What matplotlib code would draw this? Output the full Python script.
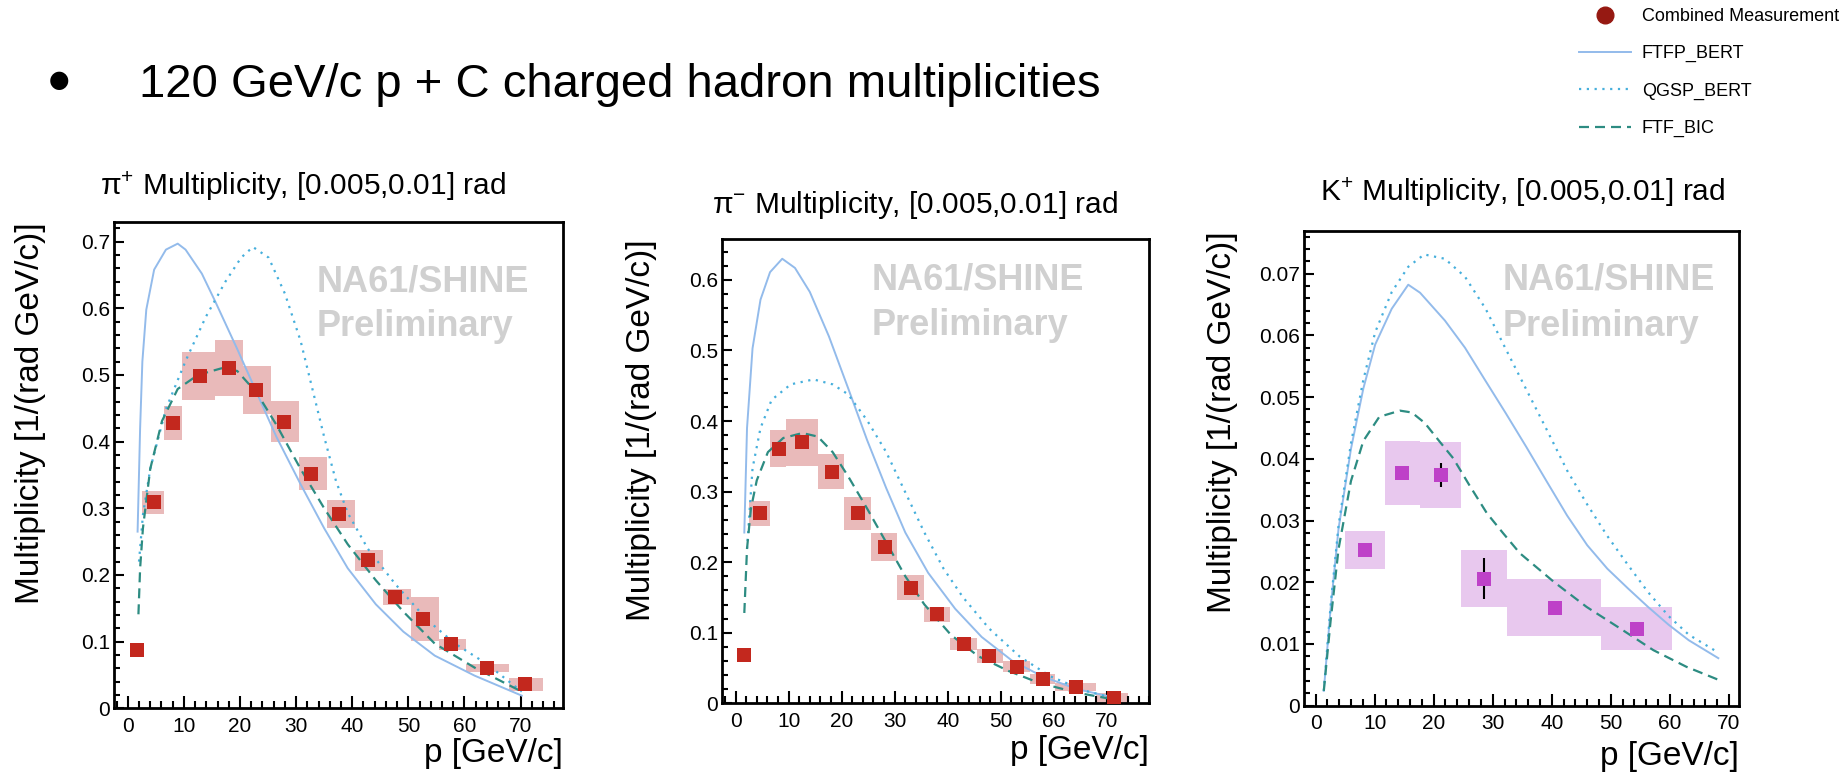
"""
NA61/SHINE 120 GeV/c p + C: pi+, pi-, K+ multiplicities vs Geant4 physics lists
"""
import numpy as np
import matplotlib
matplotlib.use('Agg')
import matplotlib.pyplot as plt
from matplotlib.lines import Line2D
from matplotlib.ticker import MultipleLocator, FuncFormatter

plt.rcParams['font.family'] = ['Liberation Sans', 'DejaVu Sans']
plt.rcParams['mathtext.fontset'] = 'custom'
plt.rcParams['mathtext.rm'] = 'Liberation Sans'
plt.rcParams['mathtext.it'] = 'Liberation Sans:italic'

# ---- pion bins (shared by pi+ and pi-) ----
pi_lo = [0.6, 2.6, 6.5, 9.6, 15.6, 20.5, 25.5, 30.5, 35.5, 40.5, 45.5, 50.5, 55.5, 60.2, 68.0]
pi_hi = [2.6, 6.5, 9.6, 15.6, 20.5, 25.5, 30.5, 35.5, 40.5, 45.5, 50.5, 55.5, 60.2, 68.0, 74.0]

# ---- pi+ measurement ----
pip_p = [1.7, 4.7, 8.1, 12.8, 18.0, 22.9, 27.8, 32.7, 37.7, 42.8, 47.7, 52.6, 57.6, 64.0, 70.8]
pip_m = [0.087, 0.309, 0.428, 0.498, 0.510, 0.477, 0.430, 0.352, 0.291, 0.222, 0.167, 0.134, 0.096, 0.061, 0.036]
pip_sys = [0.003, 0.017, 0.026, 0.036, 0.042, 0.036, 0.031, 0.025, 0.021, 0.016, 0.012, 0.033, 0.008, 0.006, 0.010]

# pi+ models
ftfp1_p = [1.75, 2.2, 2.6, 3.3, 4.7, 6.8, 8.9, 10.3, 13.2, 15.6, 19.5, 23.0, 26.5, 30.8, 35.0, 39.2, 44.2, 49.1, 54.7, 61.8, 70.2]
ftfp1_m = [0.265, 0.42, 0.52, 0.598, 0.658, 0.688, 0.697, 0.688, 0.652, 0.610, 0.539, 0.473, 0.407, 0.336, 0.270, 0.210, 0.156, 0.115, 0.079, 0.049, 0.019]
qgsp1_p = [2.0, 2.7, 4.0, 6.8, 10.3, 13.9, 17.4, 20.2, 22.3, 25.1, 28.0, 30.8, 32.9, 35.0, 37.1, 39.2, 42.8, 47.7, 53.3, 58.3, 63.9, 70.2]
qgsp1_m = [0.22, 0.29, 0.359, 0.449, 0.521, 0.587, 0.640, 0.676, 0.692, 0.676, 0.622, 0.551, 0.479, 0.407, 0.341, 0.293, 0.239, 0.186, 0.133, 0.097, 0.067, 0.025]
bic1_p = [1.9, 2.2, 2.7, 4.0, 6.1, 8.9, 12.5, 16.7, 19.5, 23.0, 26.5, 30.8, 35.0, 39.2, 44.2, 49.1, 54.7, 61.8, 70.2]
bic1_m = [0.141, 0.210, 0.270, 0.359, 0.431, 0.479, 0.500, 0.510, 0.506, 0.473, 0.425, 0.359, 0.300, 0.246, 0.192, 0.145, 0.097, 0.061, 0.025]

# ---- pi- measurement ----
pim_p = [1.65, 4.7, 8.1, 12.6, 18.1, 23.1, 28.1, 33.1, 38.0, 43.0, 47.8, 53.0, 57.9, 64.2, 71.4]
pim_m = [0.069, 0.269, 0.361, 0.370, 0.328, 0.269, 0.222, 0.164, 0.126, 0.084, 0.067, 0.052, 0.035, 0.023, 0.008]
pim_sys = [0.003, 0.018, 0.026, 0.033, 0.025, 0.024, 0.020, 0.018, 0.011, 0.009, 0.010, 0.008, 0.007, 0.006, 0.007]

# pi- models
ftfp2_p = [1.65, 2.16, 3.2, 4.7, 6.5, 8.8, 11.2, 14.0, 17.6, 21.2, 24.8, 28.4, 32.0, 36.3, 41.4, 46.4, 52.2, 57.9, 64.4, 70.9]
ftfp2_m = [0.242, 0.390, 0.503, 0.572, 0.611, 0.630, 0.617, 0.583, 0.520, 0.447, 0.373, 0.305, 0.242, 0.185, 0.134, 0.094, 0.060, 0.038, 0.020, 0.009]
qgsp2_p = [2.16, 3.2, 4.7, 6.8, 10.4, 14.7, 18.3, 21.2, 24.8, 28.4, 32.0, 35.6, 39.2, 42.8, 47.8, 53.6, 59.4, 65.8, 70.9]
qgsp2_m = [0.219, 0.333, 0.390, 0.430, 0.452, 0.459, 0.452, 0.438, 0.401, 0.356, 0.299, 0.242, 0.191, 0.151, 0.106, 0.066, 0.038, 0.018, 0.008]
bic2_p = [1.65, 2.16, 2.9, 4.0, 6.1, 9.0, 12.6, 15.5, 18.3, 21.2, 24.8, 28.4, 32.0, 35.6, 40.6, 45.7, 51.4, 57.2, 64.4, 70.9]
bic2_m = [0.128, 0.219, 0.276, 0.316, 0.356, 0.376, 0.383, 0.378, 0.356, 0.322, 0.276, 0.228, 0.180, 0.140, 0.097, 0.067, 0.046, 0.029, 0.015, 0.006]

# ---- K+ measurement ----
k_p = [8.3, 14.6, 21.2, 28.6, 40.5, 54.5]
k_m = [0.0252, 0.0377, 0.0374, 0.0206, 0.0159, 0.0125]
k_lo = [5.0, 11.7, 17.7, 24.6, 32.4, 48.4]
k_hi = [11.7, 17.7, 24.6, 32.4, 48.4, 60.3]
k_sys = [0.0031, 0.0052, 0.0053, 0.0046, 0.0046, 0.0035]
k_stat = [0.0005, 0.0008, 0.0019, 0.0033, 0.0006, 0.0006]

# K+ models
ftfp3_p = [1.4, 2.55, 3.9, 6.0, 8.1, 10.1, 12.9, 15.7, 17.7, 21.9, 25.3, 28.8, 32.2, 35.7, 39.1, 42.6, 46.0, 49.4, 52.9, 56.3, 59.8, 63.2, 68.2]
ftfp3_m = [0.0024, 0.0157, 0.0287, 0.0416, 0.0514, 0.0585, 0.0643, 0.0682, 0.0669, 0.0624, 0.0580, 0.0526, 0.0474, 0.0419, 0.0364, 0.0308, 0.0260, 0.0222, 0.0190, 0.0160, 0.0131, 0.0106, 0.0077]
qgsp3_p = [1.4, 2.55, 3.9, 6.0, 8.1, 10.1, 12.9, 15.7, 18.4, 21.9, 25.3, 28.8, 32.2, 35.7, 39.1, 42.6, 46.0, 49.4, 52.9, 56.3, 59.8, 63.2, 68.2]
qgsp3_m = [0.0024, 0.0162, 0.0292, 0.0425, 0.0528, 0.0605, 0.0670, 0.0711, 0.0731, 0.0724, 0.0695, 0.0643, 0.0578, 0.0512, 0.0448, 0.0381, 0.0326, 0.0275, 0.0228, 0.0184, 0.0145, 0.0115, 0.0086]
bic3_p = [1.4, 2.55, 3.9, 6.0, 8.1, 10.8, 14.3, 16.3, 18.5, 21.0, 23.3, 26.0, 29.0, 31.8, 34.6, 40.3, 45.9, 51.6, 57.2, 62.8, 68.2]
bic3_m = [0.0024, 0.0137, 0.0254, 0.0364, 0.0429, 0.0468, 0.0478, 0.0475, 0.0458, 0.0428, 0.0401, 0.0358, 0.0312, 0.0279, 0.0247, 0.0201, 0.0160, 0.0125, 0.0090, 0.0063, 0.0042]

labels = ['Combined Measurement', 'FTFP_BERT', 'QGSP_BERT', 'FTF_BIC']

C_FTFP = '#93bbeb'
C_QGSP = '#46afdc'
C_BIC = '#2d8c82'
PI_MARK, PI_BOX = '#c3281e', '#e9baba'
K_MARK, K_BOX = '#be41c8', '#e8c8ee'


def style_axis(ax, xlim, ylim, ymaj):
    ax.set_xlim(*xlim)
    ax.set_ylim(*ylim)
    ax.xaxis.set_major_locator(MultipleLocator(10))
    ax.xaxis.set_minor_locator(MultipleLocator(2))
    ax.yaxis.set_major_locator(MultipleLocator(ymaj))
    ax.yaxis.set_minor_locator(MultipleLocator(ymaj / 5))
    ax.yaxis.set_major_formatter(FuncFormatter(lambda v, _: f'{v:g}'))
    ax.tick_params(which='both', direction='in', top=False, right=False,
                   labelsize=15, width=1.5)
    ax.tick_params(axis='x', which='major', length=9, pad=6)
    ax.tick_params(axis='x', which='minor', length=5)
    ax.tick_params(axis='y', which='major', length=7, pad=3)
    ax.tick_params(axis='y', which='minor', length=4)
    for s in ax.spines.values():
        s.set_linewidth(2)


def draw_panel(ax, p, m, lo, hi, sys, mark_c, box_c, models):
    lo, hi = np.array(lo), np.array(hi)
    m, sys = np.array(m), np.array(sys)
    ax.bar(lo, 2 * sys, width=hi - lo, bottom=m - sys, align='edge',
           color=box_c, lw=0, zorder=1)
    (fp, fm), (qp, qm), (bp, bm) = models
    ax.plot(fp, fm, color=C_FTFP, lw=1.4, zorder=2)
    ax.plot(qp, qm, color=C_QGSP, lw=1.6, ls=(0, (1, 2.5)), zorder=2)
    ax.plot(bp, bm, color=C_BIC, lw=1.6, ls=(0, (4.5, 2.7)), zorder=2)
    ax.plot(p, m, 's', color=mark_c, ms=9.5, mew=0, zorder=4)


def watermark(ax, x, y1, y2):
    for txt, yy in (('NA61/SHINE', y1), ('Preliminary', y2)):
        ax.text(x, yy, txt, transform=ax.transAxes, fontsize=26, fontweight='bold',
                color='#d0d0d0', ha='left', va='center', zorder=0)


W, H = 1841, 775
fig = plt.figure(figsize=(W / 100, H / 100), dpi=100)

ax1 = fig.add_axes([114.3 / W, 1 - 708.3 / H, 448.4 / W, 486 / H])
ax2 = fig.add_axes([722.3 / W, 1 - 703.3 / H, 427 / W, 464.3 / H])
ax3 = fig.add_axes([1304.3 / W, 1 - 705.7 / H, 434.7 / W, 474.7 / H])

# ---- (1) pi+ ----
draw_panel(ax1, pip_p, pip_m, pi_lo, pi_hi, pip_sys, PI_MARK, PI_BOX,
           [(ftfp1_p, ftfp1_m), (qgsp1_p, qgsp1_m), (bic1_p, bic1_m)])
style_axis(ax1, (-2.4, 77.5), (0, 0.729), 0.1)
watermark(ax1, 0.452, 0.878, 0.785)

# ---- (2) pi- ----
draw_panel(ax2, pim_p, pim_m, pi_lo, pi_hi, pim_sys, PI_MARK, PI_BOX,
           [(ftfp2_p, ftfp2_m), (qgsp2_p, qgsp2_m), (bic2_p, bic2_m)])
style_axis(ax2, (-2.5, 78.0), (0, 0.658), 0.1)
watermark(ax2, 0.35, 0.912, 0.813)

# ---- (3) K+ ----
ax3.errorbar(k_p, k_m, yerr=k_stat, fmt='none', ecolor='black', elinewidth=1.5,
             capsize=0, zorder=3)
draw_panel(ax3, k_p, k_m, k_lo, k_hi, k_sys, K_MARK, K_BOX,
           [(ftfp3_p, ftfp3_m), (qgsp3_p, qgsp3_m), (bic3_p, bic3_m)])
style_axis(ax3, (-1.9, 71.7), (0, 0.0769), 0.01)
watermark(ax3, 0.457, 0.896, 0.798)

for ax, ylab_x, xlab_y in ((ax1, -0.152, -0.062), (ax2, -0.152, -0.068), (ax3, -0.152, -0.075)):
    ax.set_ylabel('Multiplicity [1/(rad GeV/c)]', fontsize=24, loc='top')
    ax.yaxis.set_label_coords(ylab_x, 1.0)
    ax.set_xlabel('p [GeV/c]', fontsize=24, loc='right')
    ax.xaxis.set_label_coords(1.0, xlab_y)

# panel titles
fig.text(100 / W, 1 - 195 / H, r'π$^{+}$ Multiplicity, [0.005,0.01] rad', fontsize=21.5, va='baseline')
fig.text(712 / W, 1 - 213 / H, r'π$^{-}$ Multiplicity, [0.005,0.01] rad', fontsize=21.5, va='baseline')
fig.text(1320 / W, 1 - 201 / H, r'K$^{+}$ Multiplicity, [0.005,0.01] rad', fontsize=21.5, va='baseline')

# slide heading
fig.text(59 / W, 1 - 80 / H, '●', fontsize=17, ha='center', va='center', family='DejaVu Sans')
fig.text(139 / W, 1 - 97 / H, '120 GeV/c p + C charged hadron multiplicities',
         fontsize=34, va='baseline')

# legend
handles = [Line2D([], [], ls='none', marker='o', color='#961912', ms=12),
           Line2D([], [], color=C_FTFP, lw=1.4),
           Line2D([], [], color=C_QGSP, lw=1.6, ls=(0, (1, 2.5))),
           Line2D([], [], color=C_BIC, lw=1.6, ls=(0, (4.5, 2.7)))]
fig.legend(handles, labels, loc='upper right', bbox_to_anchor=(1839 / W, 1 - 8 / H),
           frameon=False, fontsize=13, handlelength=2.9, handletextpad=0.6,
           labelspacing=1.12, borderpad=0, borderaxespad=0)

fig.savefig('out.png', dpi=100)
plt.close(fig)
